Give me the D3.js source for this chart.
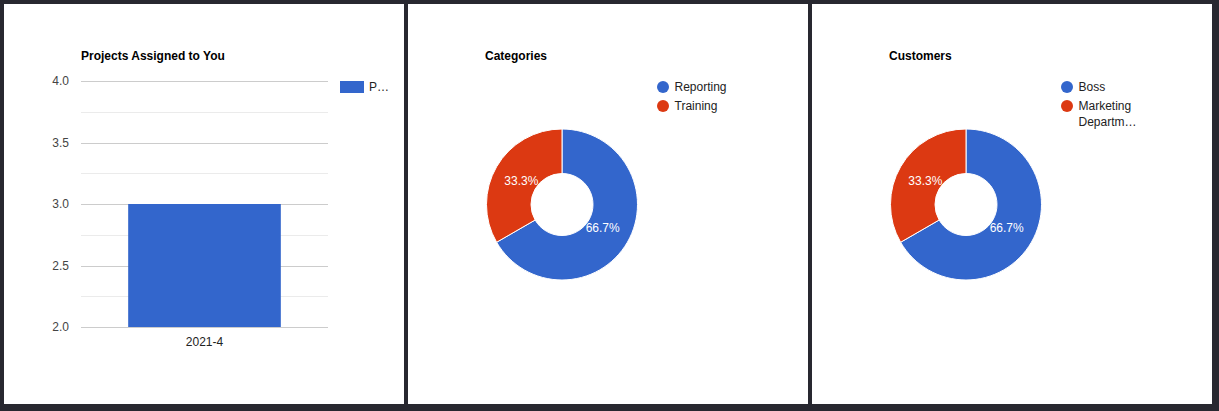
<!DOCTYPE html>
<html><head><meta charset="utf-8">
<script src="https://cdn.jsdelivr.net/npm/d3@7"></script>
<style>body{margin:0;background:#282830;}svg{display:block;font-family:Arial,"Liberation Sans",sans-serif;}</style>
</head><body>
<script>
// Data
const barCategories = ["2021-4"];
const barValues = [3];
const barSeriesName = "P…";
const yTicks = [2.0, 2.5, 3.0, 3.5, 4.0];
const yMinorTicks = [2.25, 2.75, 3.25, 3.75];

const catLabels = ["Reporting", "Training"];
const catValues = [2, 1];

const custLabels = ["Boss", ["Marketing", "Departm…"]];
const custValues = [2, 1];

const colors = ["#3366cc", "#dc3912"];

const W = 1219, H = 411;
const svg = d3.select("body").append("svg").attr("width", W).attr("height", H);
svg.append("rect").attr("width", W).attr("height", H).attr("fill", "#282830");

const panelX = [4, 408, 812];
panelX.forEach(x => svg.append("rect").attr("x", x).attr("y", 4).attr("width", 400).attr("height", 400).attr("fill", "#fff"));

// ---- Bar chart ----
const g1 = svg.append("g").attr("transform", "translate(4,4)");
const pL = 77, pR = 324, pT = 77, pB = 323;
const x = d3.scaleBand().domain(barCategories).range([pL, pR]).paddingInner(0.382).paddingOuter(0.191);
const y = d3.scaleLinear().domain([2, 4]).range([pB, pT]);

g1.append("text").attr("x", 77).attr("y", 56).attr("font-size", 12).attr("font-weight", "bold").attr("fill", "#000").text("Projects Assigned to You");

g1.selectAll(".minor").data(yMinorTicks).join("line")
  .attr("x1", pL).attr("x2", pR).attr("y1", d => Math.round(y(d)) + 0.5).attr("y2", d => Math.round(y(d)) + 0.5)
  .attr("stroke", "#ebebeb");
g1.selectAll(".major").data(yTicks).join("line")
  .attr("x1", pL).attr("x2", pR).attr("y1", d => Math.round(y(d)) + 0.5).attr("y2", d => Math.round(y(d)) + 0.5)
  .attr("stroke", "#cccccc");

const yAxis = d3.axisLeft(y).tickValues(yTicks).tickFormat(d3.format(".1f")).tickSize(0).tickPadding(0);
const ya = g1.append("g").attr("transform", `translate(${pL - 12},0)`).call(yAxis);
ya.select(".domain").remove();
ya.selectAll("text").attr("font-size", 12).attr("fill", "#444").attr("font-family", "Arial, 'Liberation Sans', sans-serif");

g1.selectAll(".bar").data(barValues).join("rect")
  .attr("x", (d, i) => x(barCategories[i])).attr("width", x.bandwidth())
  .attr("y", d => y(d)).attr("height", d => y(2) - y(d)).attr("fill", colors[0]);

const xAxis = d3.axisBottom(x).tickSize(0).tickPadding(0);
const xa = g1.append("g").attr("transform", `translate(0,${pB + 10})`).call(xAxis);
xa.select(".domain").remove();
xa.selectAll("text").attr("font-size", 12).attr("fill", "#222").attr("dy", "0.71em").attr("font-family", "Arial, 'Liberation Sans', sans-serif");

g1.append("rect").attr("x", 336).attr("y", 77).attr("width", 24).attr("height", 12).attr("fill", colors[0]);
g1.append("text").attr("x", 365).attr("y", 87).attr("font-size", 12).attr("fill", "#222").text(barSeriesName);

// ---- Donuts ----
function donut(ox, title, labels, values) {
  const g = svg.append("g").attr("transform", `translate(${ox},4)`);
  g.append("text").attr("x", 77).attr("y", 56).attr("font-size", 12).attr("font-weight", "bold").attr("fill", "#000").text(title);
  const cx = 154, cy = 200.5, R = 75.5, r = 31;
  const pie = d3.pie().sort(null).value(d => d);
  const arcs = pie(values);
  const arc = d3.arc().innerRadius(r).outerRadius(R);
  const labelArc = d3.arc().innerRadius(47).outerRadius(47);
  const total = d3.sum(values);
  const pg = g.append("g").attr("transform", `translate(${cx},${cy})`);
  pg.selectAll("path").data(arcs).join("path").attr("d", arc)
    .attr("fill", (d, i) => colors[i]).attr("stroke", "#fff").attr("stroke-width", 1);
  pg.selectAll("text").data(arcs).join("text")
    .attr("transform", d => `translate(${labelArc.centroid(d)})`)
    .attr("text-anchor", "middle").attr("dy", "0.35em").attr("font-size", 12).attr("fill", "#fff")
    .text(d => d3.format(".1%")(d.value / total));
  const lg = g.append("g");
  labels.forEach((lab, i) => {
    const ly = 83 + i * 19;
    lg.append("circle").attr("cx", 255).attr("cy", ly).attr("r", 6).attr("fill", colors[i]);
    const lines = Array.isArray(lab) ? lab : [lab];
    lines.forEach((t, j) => {
      lg.append("text").attr("x", 266.5).attr("y", ly + 4 + j * 16).attr("font-size", 12).attr("fill", "#222").text(t);
    });
  });
}
donut(408, "Categories", catLabels, catValues);
donut(812, "Customers", custLabels, custValues);
</script>
</body></html>
